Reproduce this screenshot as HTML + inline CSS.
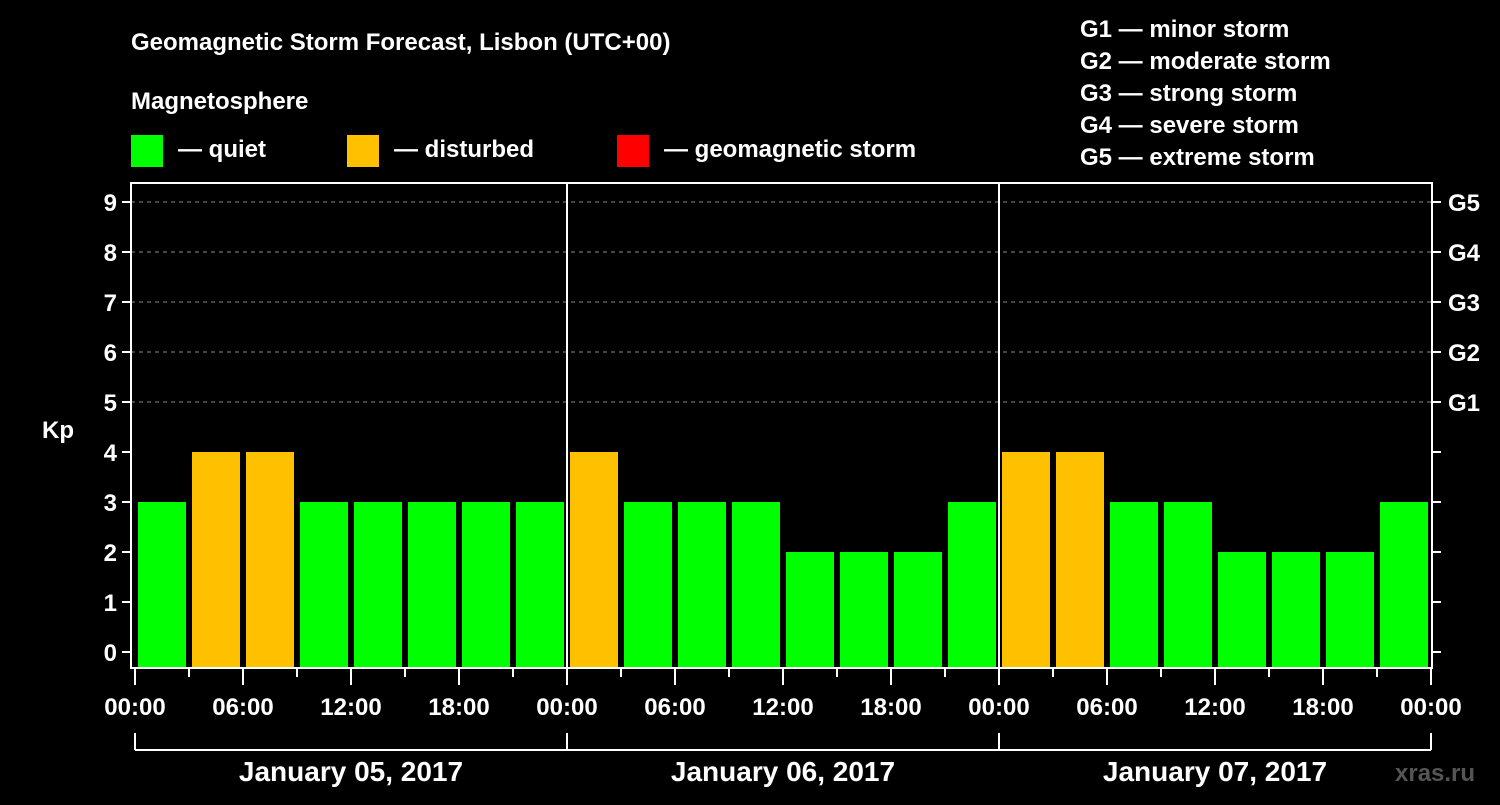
<!DOCTYPE html>
<html><head><meta charset="utf-8"><style>
body{margin:0;background:#000;width:1500px;height:800px;overflow:hidden}
svg text{font-family:"Liberation Sans",Arial,sans-serif;font-weight:bold;fill:#fff}
</style></head><body>
<svg id="chart" width="1500" height="800" xmlns="http://www.w3.org/2000/svg">
<rect width="1500" height="800" fill="#000"/>
<text x="131" y="50" font-size="24">Geomagnetic Storm Forecast, Lisbon (UTC+00)</text>
<text x="131" y="109" font-size="24">Magnetosphere</text>
<g><rect x="131" y="135" width="32" height="32" fill="#00ff00"/><text x="178" y="157" font-size="24">— quiet</text></g>
<g><rect x="347" y="135" width="32" height="32" fill="#ffc000"/><text x="394" y="157" font-size="24">— disturbed</text></g>
<g><rect x="617" y="135" width="32" height="32" fill="#ff0000"/><text x="664" y="157" font-size="24">— geomagnetic storm</text></g>
<g font-size="24">
<text x="1080" y="37">G1 — minor storm</text>
<text x="1080" y="69">G2 — moderate storm</text>
<text x="1080" y="101">G3 — strong storm</text>
<text x="1080" y="133">G4 — severe storm</text>
<text x="1080" y="165">G5 — extreme storm</text>
</g>
<text x="42" y="438" font-size="24">Kp</text>
<text x="1395" y="781" font-size="24" fill="#555" style="fill:#555">xras.ru</text>
<g id="grid"></g><g id="bars"></g><g id="axes"></g>
</svg>
<script>
const kpValues=[3,4,4,3,3,3,3,3, 4,3,3,3,2,2,2,3, 4,4,3,3,2,2,2,3];
const dayLabels=["January 05, 2017","January 06, 2017","January 07, 2017"];
const hourLabels=["00:00","06:00","12:00","18:00"];
const gLabels=["G1","G2","G3","G4","G5"];
const NS="http://www.w3.org/2000/svg";
const L=131,R=1432,T=183,B=668,X0=135,PXH=18;
const y=v=>652-v*50;
const x=h=>X0+h*PXH;
function mk(tag,attrs,parent){const e=document.createElementNS(NS,tag);for(const k in attrs)e.setAttribute(k,attrs[k]);document.getElementById(parent).appendChild(e);return e;}
for(let v=5;v<=9;v++){
const g=mk('line',{x1:L,x2:R,y1:y(v),y2:y(v),stroke:'#888','stroke-dasharray':'4,4','stroke-width':1},'grid');


}
kpValues.forEach((v,i)=>{
const c=v>=5?'#ff0000':(v>=4?'#ffc000':'#00ff00');
const b=mk('rect',{x:x(i*3)+3,y:y(v),width:48,height:B-1-y(v),fill:c},'bars');


});
const fr=mk('rect',{x:L,y:T,width:R-L,height:B-T,fill:'none',stroke:'#fff','stroke-width':2},'axes');


for(let v=0;v<=9;v++){
mk('line',{x1:L-9,x2:L,y1:y(v),y2:y(v),stroke:'#fff','stroke-width':2},'axes');
mk('line',{x1:R,x2:R+9,y1:y(v),y2:y(v),stroke:'#fff','stroke-width':2},'axes');
const t=mk('text',{x:L-14,y:y(v)+9,'font-size':24,'text-anchor':'end'},'axes');t.textContent=v;


}
gLabels.forEach((g,i)=>{const t=mk('text',{x:1448,y:y(5+i)+9,'font-size':24},'axes');t.textContent=g;

});
for(let h=0;h<=72;h+=3){
const major=h%6===0;
mk('line',{x1:x(h),x2:x(h),y1:B,y2:B+(major?17:9),stroke:'#fff','stroke-width':2},'axes');
if(major){const t=mk('text',{x:x(h),y:715,'font-size':24,'text-anchor':'middle'},'axes');t.textContent=hourLabels[(h/6)%4];

}
}
for(let d=0;d<dayLabels.length;d++){
if(d>0)mk('line',{x1:x(d*24),x2:x(d*24),y1:T,y2:B,stroke:'#fff','stroke-width':2},'axes');
mk('line',{x1:x(d*24),x2:x(d*24),y1:733,y2:750,stroke:'#fff','stroke-width':2},'axes');
const t=mk('text',{x:x(d*24+12),y:781,'font-size':28,'text-anchor':'middle'},'axes');t.textContent=dayLabels[d];


}
mk('line',{x1:x(72),x2:x(72),y1:733,y2:750,stroke:'#fff','stroke-width':2},'axes');
mk('line',{x1:x(0),x2:x(72),y1:750,y2:750,stroke:'#fff','stroke-width':2},'axes');
</script>
</body></html>
